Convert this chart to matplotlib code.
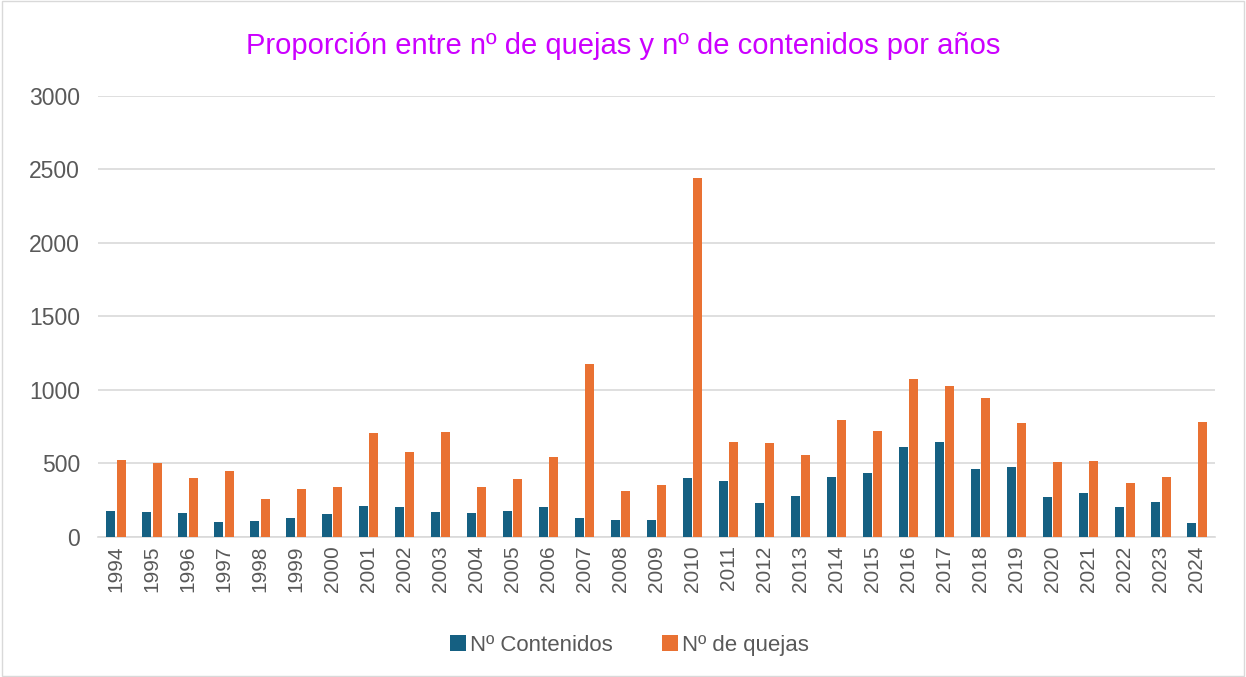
import numpy as np
import matplotlib.pyplot as plt
from matplotlib.patches import Rectangle

years = [str(y) for y in range(1994, 2025)]
contenidos = [175, 172, 163, 102, 109, 127, 154, 209, 202, 172, 166, 179, 202, 127, 114, 116,
              400, 379, 229, 277, 411, 438, 613, 645, 463, 477, 270, 300, 207, 236, 98]
quejas = [527, 504, 402, 447, 257, 329, 338, 708, 577, 713, 338, 397, 543, 1175, 311, 356,
          2445, 647, 638, 561, 795, 720, 1076, 1026, 944, 774, 511, 515, 365, 409, 785]

plt.rcParams['font.family'] = ['Liberation Sans', 'DejaVu Sans']
text_col = '#595959'
blue = '#156082'
orange = '#E97132'

fig = plt.figure(figsize=(12.46, 6.77), dpi=100)
ax = fig.add_axes([0.0787, 0.2068, 0.8963, 0.6514])

x = np.arange(len(years))
w = 0.25
ax.bar(x - 0.145, contenidos, width=w, color=blue, label='Nº Contenidos', zorder=3)
ax.bar(x + 0.145, quejas, width=w, color=orange, label='Nº de quejas', zorder=3)

ax.set_xlim(-0.5, len(years) - 0.5)
ax.set_ylim(0, 3000)
ax.set_yticks(range(0, 3001, 500))
ax.yaxis.grid(True, color='#D9D9D9', linewidth=1.2, zorder=0)
ax.set_xticks(x)
ax.set_xticklabels(years, rotation=90)
ax.tick_params(axis='x', length=0, labelsize=15, colors=text_col, pad=6)
ax.tick_params(axis='y', length=0, labelsize=16.5, colors=text_col, pad=13)
for s in ['top', 'right', 'left']:
    ax.spines[s].set_visible(False)
ax.spines['bottom'].set_color('#D9D9D9')
ax.spines['bottom'].set_linewidth(1.2)

fig.text(0.5, 0.932, 'Proporción entre nº de quejas y nº de contenidos por años',
         ha='center', va='center', fontsize=21, color='#CC00FF')

ax.legend(loc='center', bbox_to_anchor=(0.476, -0.245), ncol=2, frameon=False,
          fontsize=16, labelcolor=text_col, handlelength=0.7, handleheight=0.7,
          handletextpad=0.2, columnspacing=2.2)

fig.patches.append(Rectangle((0.002, 0.002), 0.996, 0.996, transform=fig.transFigure,
                             fill=False, edgecolor='#D9D9D9', linewidth=1))

fig.savefig('out.png', dpi=100)
